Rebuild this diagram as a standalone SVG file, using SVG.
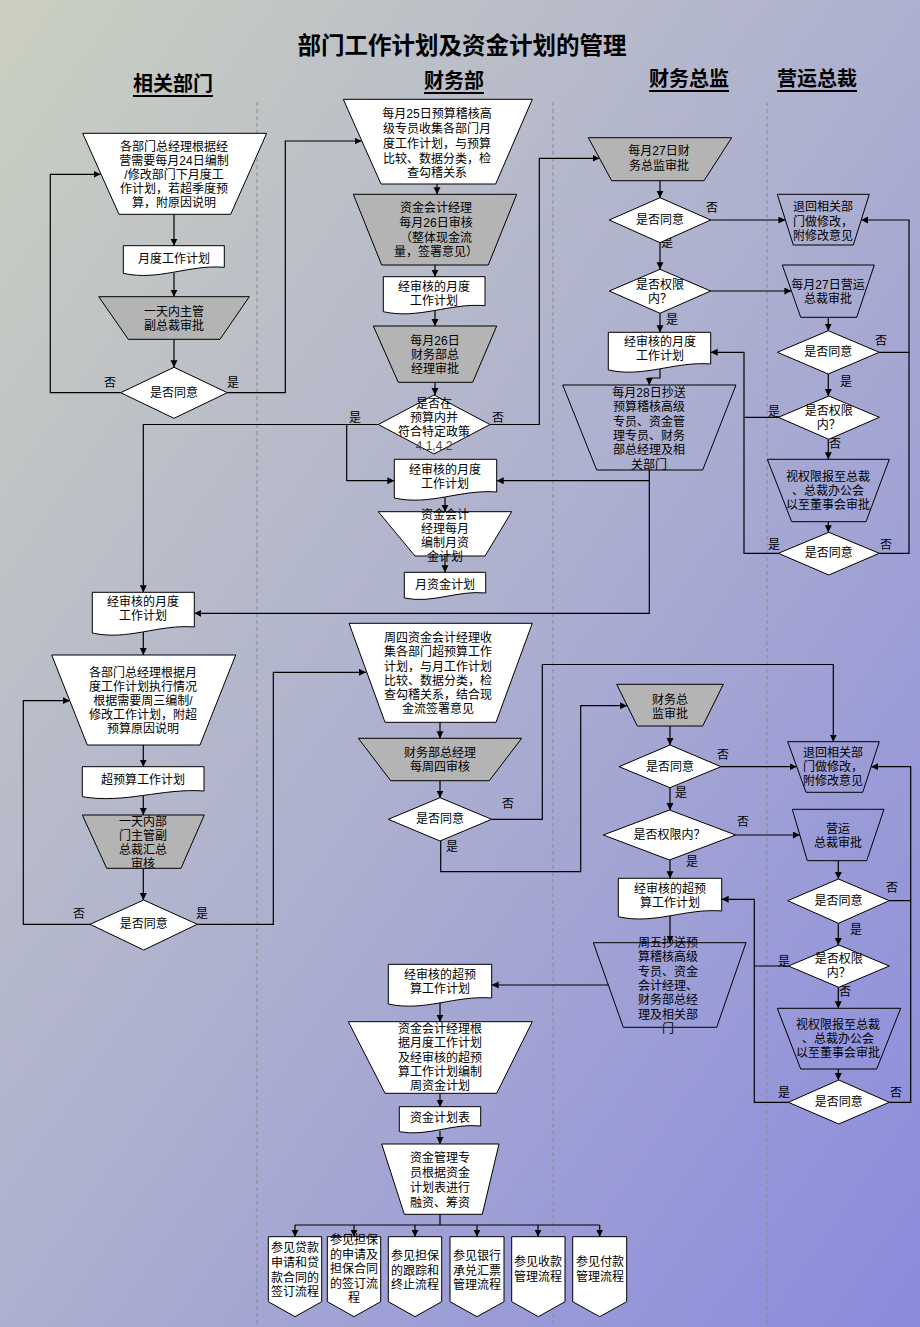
<svg xmlns="http://www.w3.org/2000/svg" width="920" height="1327" viewBox="0 0 920 1327">
<defs>
<linearGradient id="bg" x1="0" y1="0" x2="1" y2="1">
<stop offset="0" stop-color="#cbd0c0"/>
<stop offset="0.5" stop-color="#adb0cf"/>
<stop offset="1" stop-color="#8a8ade"/>
</linearGradient>
<marker id="ar" markerUnits="userSpaceOnUse" markerWidth="8" markerHeight="8" refX="7" refY="3.5" orient="auto">
<path d="M0,0 L7,3.5 L0,7 z" fill="#000"/>
</marker>
<style>
.t{font-family:"Liberation Sans","Noto Sans CJK SC",sans-serif;font-size:12px;fill:#000;text-anchor:middle;dominant-baseline:central}
.h{font-family:"Liberation Sans","Noto Sans CJK SC",sans-serif;font-size:20px;font-weight:bold;fill:#000;text-anchor:middle;dominant-baseline:central;text-decoration:underline}
.ttl{font-family:"Liberation Sans","Noto Sans CJK SC",sans-serif;font-size:23.5px;font-weight:bold;fill:#000;text-anchor:middle;dominant-baseline:central}
.w{fill:#fff;stroke:#000;stroke-width:1}
.g{fill:#b4b4b4;stroke:#000;stroke-width:1}
.n{fill:none;stroke:#000;stroke-width:1}
.lane{stroke:#8a8a8a;stroke-width:1;stroke-dasharray:4 3}
#connectors path{fill:none;stroke:#000;stroke-width:1.2}
.a{marker-end:url(#ar)}
</style>
</defs>
<rect x="0" y="0" width="920" height="1327" fill="url(#bg)"/>

<g id="lanes">
<line class="lane" x1="257" y1="102" x2="257" y2="1327"/>
<line class="lane" x1="553" y1="102" x2="553" y2="1327"/>
<line class="lane" x1="767" y1="102" x2="767" y2="1327"/>
</g>

<g id="title">
<text class="ttl" x="462" y="46">部门工作计划及资金计划的管理</text>
<text class="h" x="173" y="84">相关部门</text>
<text class="h" x="454" y="81">财务部</text>
<text class="h" x="689" y="79">财务总监</text>
<text class="h" x="817" y="79">营运总裁</text>
</g>

<g id="connectors">
<path class="a" d="M174,214.3 V245.7"/>
<path class="a" d="M174,273 V296.7"/>
<path class="a" d="M174,339.3 V367.3"/>
<path class="a" d="M120.7,392.7 H50.3 V174.3 H100.5"/>
<path class="a" d="M227.3,392.7 H285.3 V141 H361.5"/>
<path class="a" d="M437,184 V194.3"/>
<path class="a" d="M435,265 V276.7"/>
<path class="a" d="M435,310 V326"/>
<path class="a" d="M435,382.3 V395"/>
<path class="a" d="M378.3,424.5 H143.3 V592.3"/>
<path class="a" d="M346.7,424.5 V480.7 H394.3"/>
<path class="a" d="M490,424.5 H539.3 V158.3 H599.5"/>
<path class="a" d="M445,497 V511.7"/>
<path class="a" d="M445,556 V572.3"/>
<path class="a" d="M649.3,470 V613.3 H194.3"/>
<path class="a" d="M649.3,480.7 H496.7"/>
<path class="a" d="M143.3,632 V655"/>
<path class="a" d="M143.3,745 V766.7"/>
<path class="a" d="M143.3,796 V815"/>
<path class="a" d="M143.3,868.3 V900"/>
<path class="a" d="M90,924.3 H23.3 V700.7 H69.8"/>
<path class="a" d="M197.3,924.3 H273.3 V672.3 H366"/>
<path class="a" d="M440,722.3 V738.3"/>
<path class="a" d="M440,780.7 V797.7"/>
<path class="a" d="M491.7,819.3 H542.3 V664.5 H833.3 V741.7"/>
<path class="a" d="M440.7,841 V871.7 H580.7 V705.7 H627"/>
<path class="a" d="M670,726 V745"/>
<path class="a" d="M721,766.7 H796.5"/>
<path class="a" d="M670,787.7 V810"/>
<path class="a" d="M735.7,835 H799.8"/>
<path class="a" d="M670,860 V878.3"/>
<path class="a" d="M670,915 V942.7"/>
<path class="a" d="M608.3,985 H491.7"/>
<path class="a" d="M440,1003 V1021.7"/>
<path class="a" d="M440,1093.3 V1106.7"/>
<path class="a" d="M440,1131 V1144"/>
<path d="M440,1214.3 V1225 M295,1225 H599.7"/>
<path class="a" d="M295,1225 V1236.7"/>
<path class="a" d="M354,1225 V1236.7"/>
<path class="a" d="M415,1225 V1236.7"/>
<path class="a" d="M477,1225 V1236.7"/>
<path class="a" d="M538,1225 V1236.7"/>
<path class="a" d="M599.7,1225 V1236.7"/>
<path class="a" d="M660,180.7 V197.7"/>
<path class="a" d="M710.7,220 H785.4"/>
<path class="a" d="M660,242.7 V269.3"/>
<path class="a" d="M710.7,291 H791.4"/>
<path class="a" d="M660,313.3 V332.3"/>
<path class="a" d="M660,368 V378 H649.3 V385"/>
<path class="a" d="M828.3,317.3 V330.7"/>
<path class="a" d="M879.3,352.3 H909 V220 H861.2"/>
<path class="a" d="M828.3,374 V396"/>
<path d="M778.3,417.3 H744"/>
<path class="a" d="M778.3,553.3 H744 V352.3 H710.7"/>
<path class="a" d="M828.3,439.3 V459.3"/>
<path class="a" d="M828.3,521.7 V532.3"/>
<path d="M879.3,553.3 H909 V352.3"/>
<path class="a" d="M838.3,860.7 V879"/>
<path class="a" d="M889.3,900.7 H910.7 V766.7 H871.1"/>
<path class="a" d="M838.3,923.3 V945"/>
<path d="M788.3,966 H754.3"/>
<path class="a" d="M838.3,987.3 V1008.3"/>
<path class="a" d="M838.3,1069 V1080"/>
<path class="a" d="M788.3,1102.3 H754.3 V899.3 H721.7"/>
<path d="M889.3,1102.3 H910.7 V900.7"/>
</g>

<g id="edge-labels">
<text class="t" x="110" y="383">否</text><text class="t" x="233" y="383">是</text>
<text class="t" x="355" y="418">是</text><text class="t" x="498" y="418">否</text>
<text class="t" x="79" y="914">否</text><text class="t" x="202" y="914">是</text>
<text class="t" x="508" y="804">否</text><text class="t" x="452" y="847">是</text>
<text class="t" x="723" y="755">否</text><text class="t" x="681" y="793">是</text>
<text class="t" x="743" y="822">否</text><text class="t" x="692" y="862">是</text>
<text class="t" x="712" y="208">否</text><text class="t" x="667" y="243">是</text>
<text class="t" x="672" y="320">是</text>
<text class="t" x="881" y="341">否</text><text class="t" x="846" y="382">是</text>
<text class="t" x="774" y="412">是</text><text class="t" x="835" y="444">否</text>
<text class="t" x="774" y="545">是</text><text class="t" x="886" y="545">否</text>
<text class="t" x="892" y="888">否</text><text class="t" x="856" y="930">是</text>
<text class="t" x="784" y="962">是</text><text class="t" x="845" y="992">否</text>
<text class="t" x="784" y="1093">是</text><text class="t" x="896" y="1093">否</text>
</g>

<g id="n1"><polygon class="w" points="82.7,133.3 266.7,133.3 230.7,214.3 119,214.3"/>
<text class="t"><tspan x="174" y="147">各部门总经理根据经</tspan><tspan x="174" y="161">营需要每月24日编制</tspan><tspan x="174" y="175">/修改部门下月度工</tspan><tspan x="174" y="189">作计划，若超季度预</tspan><tspan x="174" y="203">算，附原因说明</tspan></text></g>

<g id="n2"><path class="w" d="M123.3,245.7 H224.3 V267.3 C188.9,264.3 158.7,281.3 123.3,273.3 Z"/>
<text class="t" x="174" y="259">月度工作计划</text></g>

<g id="n3"><polygon class="g" points="98.7,296.7 249.3,296.7 220,339.3 128.3,339.3"/>
<text class="t"><tspan x="174" y="312">一天内主管</tspan><tspan x="174" y="326">副总裁审批</tspan></text></g>

<g id="n4"><polygon class="w" points="174,367.3 227.3,392.7 174,418.3 120.7,392.7"/>
<text class="t" x="174" y="393">是否同意</text></g>

<g id="n5"><polygon class="w" points="343.3,99.3 532.3,99.3 495.7,184 381,184"/>
<text class="t"><tspan x="437" y="114">每月25日预算稽核高</tspan><tspan x="437" y="129">级专员收集各部门月</tspan><tspan x="437" y="144">度工作计划，与预算</tspan><tspan x="437" y="159">比较、数据分类，检</tspan><tspan x="437" y="173">查勾稽关系</tspan></text></g>

<g id="n6"><polygon class="g" points="353.3,194.3 516.7,194.3 488.3,265 381.7,265"/>
<text class="t"><tspan x="436" y="208">资金会计经理</tspan><tspan x="436" y="223">每月26日审核</tspan><tspan x="436" y="238">（整体现金流</tspan><tspan x="436" y="252">量，签署意见）</tspan></text></g>

<g id="n7"><path class="w" d="M383.3,276.7 H485 V305.7 C449.4,302.7 419,319.7 383.3,311.7 Z"/>
<text class="t"><tspan x="434" y="286.5">经审核的月度</tspan><tspan x="434" y="300.5">工作计划</tspan></text></g>

<g id="n8"><polygon class="g" points="373.3,326 496.7,326 472.7,382.3 398.3,382.3"/>
<text class="t"><tspan x="435" y="341">每月26日</tspan><tspan x="435" y="355">财务部总</tspan><tspan x="435" y="369">经理审批</tspan></text></g>

<g id="n9"><polygon class="w" points="434,395 490,424.5 434,454 378.3,424.5"/>
<text class="t"><tspan x="434" y="404">是否在</tspan><tspan x="434" y="418">预算内并</tspan><tspan x="434" y="432">符合特定政策</tspan><tspan x="434" y="446" fill="#444">4.1,4.2</tspan></text></g>

<g id="n10"><path class="w" d="M394.3,459.3 H496.7 V492 C460.9,489 430.3,506 394.3,498 Z"/>
<text class="t"><tspan x="445" y="470">经审核的月度</tspan><tspan x="445" y="484">工作计划</tspan></text></g>

<g id="n11"><polygon class="w" points="378.3,511.7 511.7,511.7 485,556 415,556"/>
<text class="t"><tspan x="445" y="515">资金会计</tspan><tspan x="445" y="529">经理每月</tspan><tspan x="445" y="543">编制月资</tspan><tspan x="445" y="557">金计划</tspan></text></g>

<g id="n12"><path class="w" d="M404.3,572.3 H485.7 V593 C457.2,590 432.8,604 404.3,598 Z"/>
<text class="t" x="445" y="585">月资金计划</text></g>

<g id="n13"><path class="w" d="M92.3,592.3 H194.3 V627 C158.6,624 128,641 92.3,633 Z"/>
<text class="t"><tspan x="143" y="602">经审核的月度</tspan><tspan x="143" y="616">工作计划</tspan></text></g>

<g id="n14"><polygon class="w" points="51.7,655 235.7,655 200,745 87.3,745"/>
<text class="t"><tspan x="143" y="673">各部门总经理根据月</tspan><tspan x="143" y="687">度工作计划执行情况</tspan><tspan x="143" y="701">根据需要周三编制/</tspan><tspan x="143" y="715">修改工作计划，附超</tspan><tspan x="143" y="729">预算原因说明</tspan></text></g>

<g id="n15"><path class="w" d="M82.3,766.7 H204 V791 C161.4,788 125,804 82.3,796.7 Z"/>
<text class="t" x="143" y="780">超预算工作计划</text></g>

<g id="n16"><polygon class="g" points="82.3,815 204.3,815 181,868.3 106.7,868.3"/>
<text class="t"><tspan x="143" y="822">一天内部</tspan><tspan x="143" y="836">门主管副</tspan><tspan x="143" y="850">总裁汇总</tspan><tspan x="143" y="864">审核</tspan></text></g>

<g id="n17"><polygon class="w" points="143.7,900 197.3,924.3 143.7,950 90,924.3"/>
<text class="t" x="143.7" y="924">是否同意</text></g>

<g id="n18"><polygon class="w" points="349,623.3 532.3,623.3 496,722.3 385,722.3"/>
<text class="t"><tspan x="438" y="638">周四资金会计经理收</tspan><tspan x="438" y="652">集各部门超预算工作</tspan><tspan x="438" y="667">计划，与月工作计划</tspan><tspan x="438" y="681">比较、数据分类，检</tspan><tspan x="438" y="695">查勾稽关系，结合现</tspan><tspan x="438" y="709">金流签署意见</tspan></text></g>

<g id="n19"><polygon class="g" points="358.3,738.3 521.7,738.3 489.3,780.7 390.7,780.7"/>
<text class="t"><tspan x="440" y="753">财务部总经理</tspan><tspan x="440" y="767">每周四审核</tspan></text></g>

<g id="n20"><polygon class="w" points="440,797.7 491.7,819.3 440,841 388.3,819.3"/>
<text class="t" x="440" y="819">是否同意</text></g>

<g id="n21"><polygon class="g" points="616.7,684.3 723.3,684.3 702.7,726 637.3,726"/>
<text class="t"><tspan x="670" y="700">财务总</tspan><tspan x="670" y="714">监审批</tspan></text></g>

<g id="n22"><polygon class="w" points="670,745 721,766.7 670,787.7 619,766.7"/>
<text class="t" x="670" y="767">是否同意</text></g>

<g id="n23"><polygon class="w" points="669.5,810 735.7,835 669.5,860 603.3,835"/>
<text class="t" x="669.5" y="835">是否权限内？</text></g>

<g id="n24"><path class="w" d="M618.3,878.3 H721.7 V911 C685.5,908 654.5,925 618.3,916.7 Z"/>
<text class="t"><tspan x="670" y="889">经审核的超预</tspan><tspan x="670" y="903">算工作计划</tspan></text></g>

<g id="n25"><polygon class="n" points="593.3,942.7 746,942.7 716.7,1027.3 623.3,1027.3"/>
<text class="t"><tspan x="668" y="943">周五抄送预</tspan><tspan x="668" y="957">算稽核高级</tspan><tspan x="668" y="972">专员、资金</tspan><tspan x="668" y="986">会计经理、</tspan><tspan x="668" y="1000">财务部总经</tspan><tspan x="668" y="1015">理及相关部</tspan><tspan x="668" y="1029">门</tspan></text></g>

<g id="n26"><path class="w" d="M388.3,964.3 H491.7 V998 C455.5,995 424.5,1012 388.3,1004 Z"/>
<text class="t"><tspan x="440" y="975">经审核的超预</tspan><tspan x="440" y="989">算工作计划</tspan></text></g>

<g id="n27"><polygon class="w" points="348.3,1021.7 532.3,1021.7 496.7,1093.3 385,1093.3"/>
<text class="t"><tspan x="440" y="1029">资金会计经理根</tspan><tspan x="440" y="1043">据月度工作计划</tspan><tspan x="440" y="1058">及经审核的超预</tspan><tspan x="440" y="1072">算工作计划编制</tspan><tspan x="440" y="1086">周资金计划</tspan></text></g>

<g id="n28"><path class="w" d="M399.3,1106.7 H480.7 V1126 C452.2,1123 427.8,1137 399.3,1131.7 Z"/>
<text class="t" x="440" y="1118">资金计划表</text></g>

<g id="n29"><polygon class="w" points="381.7,1144 499,1144 482.3,1214.3 404.3,1214.3"/>
<text class="t"><tspan x="440" y="1158">资金管理专</tspan><tspan x="440" y="1173">员根据资金</tspan><tspan x="440" y="1188">计划表进行</tspan><tspan x="440" y="1203">融资、筹资</tspan></text></g>

<g id="n30a"><path class="w" d="M268.3,1236.7 H321.7 V1301.7 L295,1316.7 L268.3,1301.7 Z"/>
<text class="t"><tspan x="295" y="1248">参见贷款</tspan><tspan x="295" y="1263">申请和贷</tspan><tspan x="295" y="1278">款合同的</tspan><tspan x="295" y="1292">签订流程</tspan></text></g>
<g id="n30b"><path class="w" d="M327.3,1236.7 H380.7 V1301.7 L354,1316.7 L327.3,1301.7 Z"/>
<text class="t"><tspan x="354" y="1240">参见担保</tspan><tspan x="354" y="1255">的申请及</tspan><tspan x="354" y="1269">担保合同</tspan><tspan x="354" y="1284">的签订流</tspan><tspan x="354" y="1298">程</tspan></text></g>
<g id="n30c"><path class="w" d="M388.3,1236.7 H441.7 V1301.7 L415,1316.7 L388.3,1301.7 Z"/>
<text class="t"><tspan x="415" y="1256">参见担保</tspan><tspan x="415" y="1271">的跟踪和</tspan><tspan x="415" y="1285">终止流程</tspan></text></g>
<g id="n30d"><path class="w" d="M450,1236.7 H504 V1301.7 L477,1316.7 L450,1301.7 Z"/>
<text class="t"><tspan x="477" y="1256">参见银行</tspan><tspan x="477" y="1271">承兑汇票</tspan><tspan x="477" y="1285">管理流程</tspan></text></g>
<g id="n30e"><path class="w" d="M511.7,1236.7 H565 V1301.7 L538.3,1316.7 L511.7,1301.7 Z"/>
<text class="t"><tspan x="538" y="1262">参见收款</tspan><tspan x="538" y="1277">管理流程</tspan></text></g>
<g id="n30f"><path class="w" d="M572.7,1236.7 H626.7 V1301.7 L599.7,1316.7 L572.7,1301.7 Z"/>
<text class="t"><tspan x="600" y="1262">参见付款</tspan><tspan x="600" y="1277">管理流程</tspan></text></g>

<g id="n31"><polygon class="g" points="588.3,137.7 731.7,137.7 704,180.7 611.7,180.7"/>
<text class="t"><tspan x="659" y="151">每月27日财</tspan><tspan x="659" y="166">务总监审批</tspan></text></g>

<g id="n32"><polygon class="w" points="660,197.7 710.7,220 660,242.7 609.3,220"/>
<text class="t" x="660" y="220">是否同意</text></g>

<g id="n33"><polygon class="w" points="660,269.3 710.7,291 660,313.3 609.3,291"/>
<text class="t"><tspan x="660" y="285">是否权限</tspan><tspan x="660" y="299">内？</tspan></text></g>

<g id="n34"><path class="w" d="M608.3,332.3 H710.7 V364 C674.9,361 644.1,378 608.3,370 Z"/>
<text class="t"><tspan x="660" y="342">经审核的月度</tspan><tspan x="660" y="356">工作计划</tspan></text></g>

<g id="n35"><polygon class="n" points="562.7,385 736,385 702.7,470 596.7,470"/>
<text class="t"><tspan x="649" y="393">每月28日抄送</tspan><tspan x="649" y="407">预算稽核高级</tspan><tspan x="649" y="422">专员、资金管</tspan><tspan x="649" y="436">理专员、财务</tspan><tspan x="649" y="450">部总经理及相</tspan><tspan x="649" y="465">关部门</tspan></text></g>

<g id="n36"><polygon class="n" points="777.3,194.3 869.3,194.3 853.3,245 793.3,245"/>
<text class="t"><tspan x="823" y="207">退回相关部</tspan><tspan x="823" y="222">门做修改，</tspan><tspan x="823" y="236">附修改意见</tspan></text></g>

<g id="n37"><polygon class="n" points="782.3,265 874.3,265 856.7,317.3 800.7,317.3"/>
<text class="t"><tspan x="828" y="285">每月27日营运</tspan><tspan x="828" y="299">总裁审批</tspan></text></g>

<g id="n38"><polygon class="w" points="828.3,330.7 879.3,352.3 828.3,374 777.3,352.3"/>
<text class="t" x="828.3" y="352">是否同意</text></g>

<g id="n39"><polygon class="w" points="828.8,396 879.3,417.3 828.8,439.3 778.3,417.3"/>
<text class="t"><tspan x="828.8" y="411">是否权限</tspan><tspan x="828.8" y="425">内？</tspan></text></g>

<g id="n40"><polygon class="n" points="767.3,459.3 889.3,459.3 866,521.7 791.7,521.7"/>
<text class="t"><tspan x="828" y="477">视权限报至总裁</tspan><tspan x="828" y="491">、总裁办公会</tspan><tspan x="828" y="505">以至董事会审批</tspan></text></g>

<g id="n41"><polygon class="w" points="828.8,532.3 879.3,553.3 828.8,575 778.3,553.3"/>
<text class="t" x="828.8" y="553">是否同意</text></g>

<g id="n42"><polygon class="n" points="787.7,741.7 879.3,741.7 862.7,792.3 806,792.3"/>
<text class="t"><tspan x="833" y="753">退回相关部</tspan><tspan x="833" y="767">门做修改，</tspan><tspan x="833" y="781">附修改意见</tspan></text></g>

<g id="n43"><polygon class="n" points="792.3,809.3 884,809.3 866.7,860.7 807.3,860.7"/>
<text class="t"><tspan x="838" y="829">营运</tspan><tspan x="838" y="843">总裁审批</tspan></text></g>

<g id="n44"><polygon class="w" points="838.5,879 889.3,900.7 838.5,923.3 787.7,900.7"/>
<text class="t" x="838.5" y="901">是否同意</text></g>

<g id="n45"><polygon class="w" points="838.8,945 889.3,966 838.8,987.3 788.3,966"/>
<text class="t"><tspan x="838.8" y="959">是否权限</tspan><tspan x="838.8" y="973">内？</tspan></text></g>

<g id="n46"><polygon class="n" points="777.3,1008.3 900.7,1008.3 876.7,1069 800.7,1069"/>
<text class="t"><tspan x="838" y="1025">视权限报至总裁</tspan><tspan x="838" y="1039">、总裁办公会</tspan><tspan x="838" y="1053">以至董事会审批</tspan></text></g>

<g id="n47"><polygon class="w" points="838.8,1080 889.3,1102.3 838.8,1124 788.3,1102.3"/>
<text class="t" x="838.8" y="1102">是否同意</text></g>
</svg>
